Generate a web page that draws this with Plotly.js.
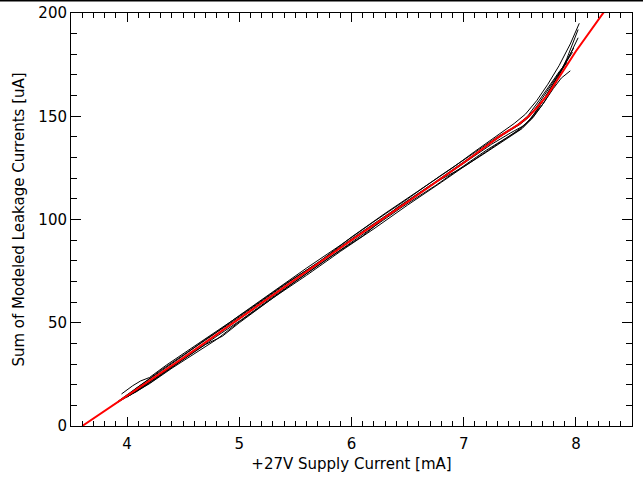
<!DOCTYPE html>
<html>
<head>
<meta charset="utf-8">
<script src="https://cdn.plot.ly/plotly-3.0.1.min.js"></script>
<style>
  html, body { margin: 0; padding: 0; background: #fff; }
  #plot { width: 643px; height: 482px; }
</style>
</head>
<body>
<div id="plot"></div>
<script>
// fitted curve (red)
const fitX = [3.6, 4.0, 4.5, 5.0, 5.5, 6.0, 6.5, 7.0, 7.3, 7.5, 7.58, 7.65, 7.75, 7.87, 8.0, 8.25];
const fitY = [0, 14.5, 33, 52, 71, 90, 108.5, 127.5, 139.5, 146.5, 150, 154, 160.5, 170.5, 181.5, 200.5];

// individual runs (black)
const run1X = [3.95, 4.05, 4.12, 4.2, 4.35, 4.5, 4.7, 4.9, 5.1, 5.4, 5.7, 6.0, 6.3, 6.6, 6.9, 7.1, 7.3, 7.45, 7.55, 7.65, 7.75, 7.85, 7.95, 8.03];
const run1Y = [15.5, 19.5, 21.8, 23.5, 29.5, 35, 42.5, 50, 57, 68.5, 79, 91.5, 103, 114, 125, 133, 140.5, 146.5, 151, 157.5, 165.5, 174.5, 185, 195];
const run2X = [3.87, 3.95, 4.05, 4.2, 4.4, 4.6, 4.8, 5.0, 5.3, 5.6, 5.9, 6.2, 6.5, 6.8, 7.0, 7.2, 7.4, 7.52, 7.62, 7.72, 7.82, 7.92, 8.02];
const run2Y = [10, 12.5, 15.5, 20.5, 28, 35, 42, 50.5, 62, 73, 84.5, 95.5, 107, 118, 125.5, 132.5, 139.5, 144, 149.5, 157, 166, 178, 192];
const run3X = [3.95, 4.02, 4.15, 4.3, 4.5, 4.7, 4.85, 5.0, 5.25, 5.5, 5.8, 6.1, 6.4, 6.7, 7.0, 7.25, 7.45, 7.55, 7.65, 7.78, 7.9, 8.02];
const run3Y = [13, 14.8, 19.5, 25, 32.5, 39.5, 43.5, 50, 60, 70, 81.5, 92, 105.5, 116.5, 125.5, 134.5, 142, 146, 152.5, 164, 174.5, 188];
const run4X = [4.0, 4.1, 4.25, 4.45, 4.65, 4.85, 5.05, 5.35, 5.65, 5.95, 6.25, 6.55, 6.85, 7.05, 7.25, 7.42, 7.52, 7.6, 7.7, 7.8, 7.87, 7.95];
const run4Y = [14, 17.5, 23, 31, 38.5, 46, 53.5, 65, 76.5, 88, 99.5, 110.5, 121.5, 129, 136.5, 142, 145, 148.5, 155.5, 163.5, 168.5, 172];
const run5X = [3.92, 4.0, 4.15, 4.3, 4.5, 4.75, 5.0, 5.3, 5.6, 5.9, 6.2, 6.5, 6.8, 7.1, 7.3, 7.47, 7.57, 7.67, 7.77, 7.85, 7.92];
const run5Y = [12, 15, 21, 27, 34.5, 43.5, 53.5, 65, 76.5, 87.5, 99, 110, 121.5, 132.5, 140, 145.5, 150, 157.5, 165.5, 171.5, 176];
const run6X = [3.97, 4.08, 4.22, 4.4, 4.6, 4.8, 5.02, 5.3, 5.55, 5.85, 6.15, 6.45, 6.75, 7.0, 7.2, 7.38, 7.5, 7.6, 7.7, 7.8, 7.9, 7.98];
const run6Y = [13.5, 16.5, 21.5, 28.5, 36, 43.5, 51.5, 62.5, 72, 83.5, 95, 106, 116.5, 126, 133.5, 139.5, 143.5, 149, 157, 166, 175.5, 183];
const run7X = [3.98, 4.1, 4.3, 4.5, 4.7, 4.9, 5.15, 5.45, 5.75, 6.05, 6.35, 6.65, 6.95, 7.15, 7.35, 7.5, 7.58, 7.68, 7.78, 7.88, 7.97];
const run7Y = [14, 19, 26.5, 34, 42, 49, 58.5, 70, 81, 92.5, 103.5, 114.5, 126, 133.5, 141, 146, 149.5, 157, 165, 173.5, 181];

const xTicks = [4, 5, 6, 7, 8];
const yTicks = [0, 50, 100, 150, 200];

const runs = [
  [run1X, run1Y], [run2X, run2Y], [run3X, run3Y], [run4X, run4Y],
  [run5X, run5Y], [run6X, run6Y], [run7X, run7Y]
];

const traces = runs.map(r => ({
  x: r[0],
  y: r[1],
  mode: "lines",
  line: { color: "black", width: 1 },
  showlegend: false,
  hoverinfo: "skip"
}));

traces.push({
  x: fitX,
  y: fitY,
  mode: "lines",
  line: { color: "#ff0000", width: 2 },
  showlegend: false,
  hoverinfo: "skip"
});

const font = { family: "DejaVu Sans, sans-serif", size: 15, color: "black" };

const layout = {
  width: 643,
  height: 482,
  margin: { l: 71, r: 11, t: 13, b: 56 },
  paper_bgcolor: "white",
  plot_bgcolor: "white",
  font: font,
  showlegend: false,
  xaxis: {
    range: [3.5, 8.5],
    tickvals: xTicks,
    ticktext: xTicks.map(String),
    ticks: "inside",
    ticklen: 9,
    tickwidth: 1,
    tickcolor: "black",
    ticklabelstandoff: 4,
    minor: { ticks: "inside", dtick: 0.1, ticklen: 5, tickcolor: "black", tickwidth: 1 },
    showline: true,
    linecolor: "black",
    linewidth: 1,
    mirror: "ticks",
    showgrid: false,
    zeroline: false,
    tickfont: font,
    title: { text: "+27V Supply Current [mA]", font: font, standoff: 6 }
  },
  yaxis: {
    range: [0, 200],
    tickvals: yTicks,
    ticktext: yTicks.map(String),
    ticks: "inside",
    ticklen: 10,
    tickwidth: 1,
    tickcolor: "black",
    minor: { ticks: "inside", dtick: 10, ticklen: 6, tickcolor: "black", tickwidth: 1 },
    showline: true,
    linecolor: "black",
    linewidth: 1,
    mirror: "ticks",
    showgrid: false,
    zeroline: false,
    tickfont: font,
    title: { text: "Sum of Modeled Leakage Currents [uA]", font: font, standoff: 10 }
  },
  shapes: [
    {
      type: "line", xref: "paper", yref: "paper",
      x0: -0.2, x1: 1.1, y0: 1.0303, y1: 1.0303,
      line: { color: "black", width: 2 }
    }
  ]
};

Plotly.newPlot("plot", traces, layout, { staticPlot: true, displayModeBar: false });
</script>
</body>
</html>
